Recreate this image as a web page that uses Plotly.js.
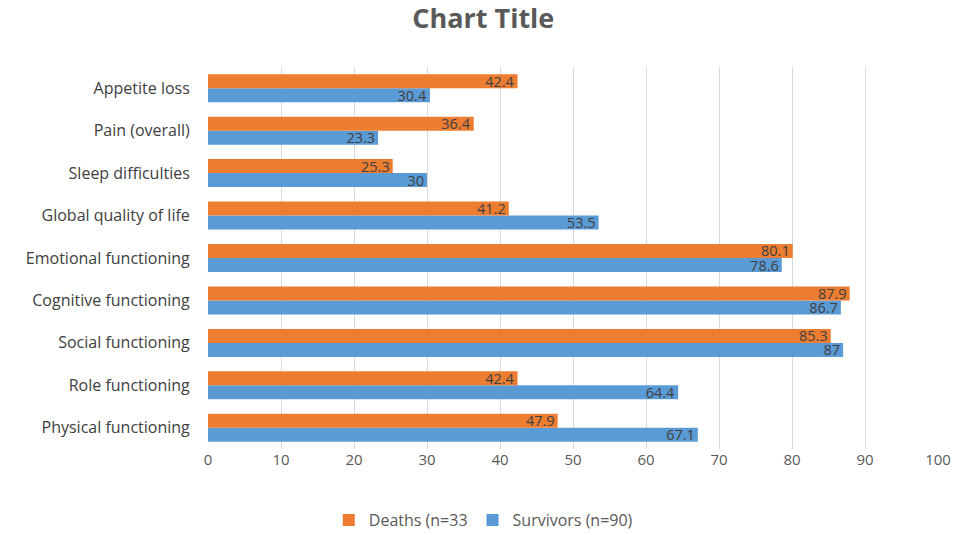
<!DOCTYPE html>
<html><head><meta charset="utf-8">
<script src="https://cdn.plot.ly/plotly-3.0.1.min.js"></script>
<style>html,body{margin:0;padding:0;background:#fff;}#chart{width:957px;height:535px;}</style>
</head><body><div id="chart"></div>
<script>
const categories = ["Physical functioning","Role functioning","Social functioning","Cognitive functioning","Emotional functioning","Global quality of life","Sleep difficulties","Pain (overall)","Appetite loss"];
const deaths = [47.9, 42.4, 85.3, 87.9, 80.1, 41.2, 25.3, 36.4, 42.4];
const survivors = [67.1, 64.4, 87, 86.7, 78.6, 53.5, 30, 23.3, 30.4];
const xTicks = [0,10,20,30,40,50,60,70,80,90,100];

const font = "Open Sans, Liberation Sans, sans-serif";
const labelFont = {family: font, size: 14.5, color: "#404040"};

const traces = [
  {type:"bar", orientation:"h", name:"Survivors (n=90)", y:categories, x:survivors,
   marker:{color:"#5B9BD5", line:{width:0}}, text:survivors.map(String), textangle:0,
   textposition:"inside", insidetextanchor:"end", constraintext:"none", textfont:labelFont, cliponaxis:false, hoverinfo:"x+name"},
  {type:"bar", orientation:"h", name:"Deaths (n=33", y:categories, x:deaths,
   marker:{color:"#ED7D31", line:{width:0}}, text:deaths.map(String), textangle:0,
   textposition:"inside", insidetextanchor:"end", constraintext:"none", textfont:labelFont, cliponaxis:false, hoverinfo:"x+name"}
];

const layout = {
  width:957, height:535,
  margin:{l:208, r:19, t:67, b:86, autoexpand:false},
  paper_bgcolor:"#fff", plot_bgcolor:"#fff",
  title:{text:"<b>Chart Title</b>", font:{family:font, size:27, color:"#595959"}, x:0.505, xanchor:"center", y:0.965, yanchor:"middle"},
  barmode:"group", bargap:0.34, bargroupgap:0,
  xaxis:{range:[0,100], tickvals:xTicks, ticktext:xTicks.map(String), showgrid:true, gridcolor:"#D9D9D9", gridwidth:1,
         zeroline:false, showline:false, ticks:"", tickfont:{family:font, size:15, color:"#595959"}, fixedrange:true, automargin:false},
  yaxis:{type:"category", categoryorder:"array", categoryarray:categories, showgrid:false, zeroline:false, automargin:false,
         showline:false, ticks:"outside", ticklen:14, tickcolor:"rgba(0,0,0,0)", tickfont:{family:font, size:16, color:"#404040"}},
  legend:{orientation:"h", traceorder:"reversed", xref:"container", x:0.505, xanchor:"center", yref:"container", y:0.028, yanchor:"middle",
          font:{family:font, size:16, color:"#595959"}, itemwidth:30},
  showlegend:true
};
Plotly.newPlot("chart", traces, layout, {displayModeBar:false, staticPlot:true});
</script></body></html>
